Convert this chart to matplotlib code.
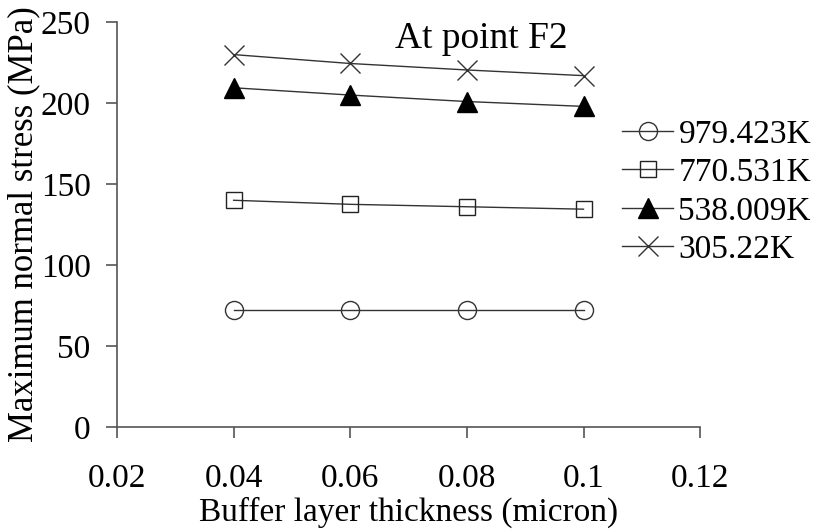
import matplotlib
matplotlib.use('Agg')
from matplotlib import pyplot as plt

# Data
thickness = [0.04, 0.06, 0.08, 0.1]
s_979 = [72, 72, 72, 72]
s_770 = [140, 137.5, 136, 134.5]
s_538 = [209.5, 205, 201, 198]
s_305 = [230, 224.5, 220.5, 217]
labels = ['979.423K', '770.531K', '538.009K', '305.22K']

plt.rcParams['font.family'] = ['Liberation Serif', 'DejaVu Serif']
plt.rcParams['font.size'] = 24

fig = plt.figure(figsize=(8.16, 5.29), dpi=100)
ax = fig.add_axes([0.1434, 0.193, 0.7146, 0.765])

lc = '#333333'
ax.plot(thickness, s_979, color=lc, lw=1, marker='o', ms=13, mfc='none', mec='#333333', mew=1, label=labels[0])
ax.plot(thickness, s_770, color=lc, lw=1, marker='s', ms=12, mfc='none', mec='#222222', mew=1, label=labels[1])
ax.plot(thickness, s_538, color=lc, lw=1, marker='^', ms=14, mfc='black', mec='black', label=labels[2])
ax.plot(thickness, s_305, color=lc, lw=1, marker='x', ms=14, mec='#333333', mew=1, label=labels[3])

ax.set_xlim(0.02, 0.12)
ax.set_ylim(0, 250)
ax.set_xticks([0.02, 0.04, 0.06, 0.08, 0.1, 0.12])
ax.set_xticklabels(['0.02', '0.04', '0.06', '0.08', '0.1', '0.12'])
ax.set_yticks([0, 50, 100, 150, 200, 250])

for side in ['top', 'right']:
    ax.spines[side].set_visible(False)
for side in ['left', 'bottom']:
    ax.spines[side].set_color('#555555')
    ax.spines[side].set_linewidth(1.2)
ax.tick_params(direction='out', length=8, width=1.2, color='#555555')
ax.tick_params(axis='y', pad=11)
ax.tick_params(axis='x', pad=18)

ax.set_xlabel('Buffer layer thickness (micron)', labelpad=2)
ax.set_ylabel('Maximum normal stress (MPa)', labelpad=0, fontsize=25)

ax.text(0.0825, 240, 'At point F2', ha='center', va='center', fontsize=27)

ax.legend(loc='upper left', bbox_to_anchor=(0.762, 0.775), bbox_transform=fig.transFigure,
          frameon=False, handlelength=1.55, handletextpad=0.15, labelspacing=0.24,
          borderaxespad=0, borderpad=0)

fig.savefig('out.png', dpi=100)
